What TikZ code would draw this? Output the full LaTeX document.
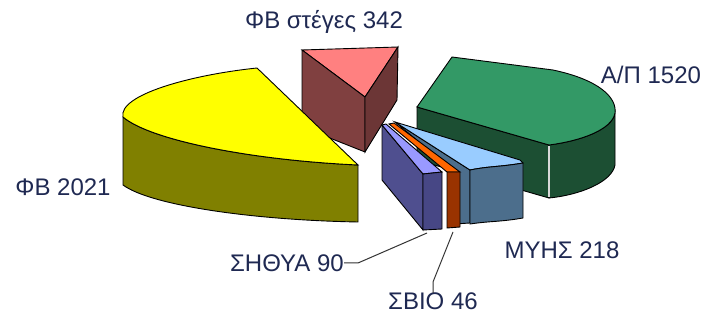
\documentclass[tikz,border=0pt]{standalone}
\usepackage{fontspec}
\setmainfont{Liberation Sans}
\newlength{\du}
\setlength{\du}{1pt}
\definecolor{labelcolor}{rgb}{0.12, 0.16, 0.32}
\definecolor{fvtop}{rgb}{1.00, 1.00, 0.00}
\definecolor{fvside}{rgb}{0.50, 0.50, 0.00}
\definecolor{rooftop}{rgb}{1.00, 0.50, 0.50}
\definecolor{roofside}{rgb}{0.50, 0.25, 0.25}
\definecolor{aptop}{rgb}{0.20, 0.60, 0.40}
\definecolor{apside}{rgb}{0.11, 0.31, 0.20}
\definecolor{myhstop}{rgb}{0.60, 0.80, 1.00}
\definecolor{myhsside}{rgb}{0.30, 0.43, 0.55}
\definecolor{sviotop}{rgb}{1.00, 0.40, 0.00}
\definecolor{svioside}{rgb}{0.60, 0.20, 0.00}
\definecolor{sithyatop}{rgb}{0.60, 0.60, 1.00}
\definecolor{sithyaside}{rgb}{0.31, 0.31, 0.56}
\definecolor{sithyafront}{rgb}{0.28, 0.28, 0.52}
\tikzset{
  face/.style={draw=black, line width=0.9\du, line join=miter},
  lbl/.style={text=labelcolor, font=\fontsize{24\du}{28\du}\selectfont, inner sep=0pt},
  leader/.style={draw=black!80, line width=1\du}
}

\begin{document}
\begin{tikzpicture}
\pgftransformxscale{1.000000}
\pgftransformyscale{-1.000000}
\useasboundingbox (0\du,0\du) rectangle (710\du,320\du);
% pink slice (roofs)
\fill[rooftop, face] (302\du,50\du)--(398\du,47\du)--(365\du,97\du)--cycle;
\fill[roofside, face] (302\du,50\du)--(365\du,97\du)--(365\du,152\du)--(302\du,127\du)--cycle;
\fill[roofside!85!black, face] (365\du,97\du)--(398\du,47\du)--(397\du,100\du)--(365\du,152\du)--cycle;
% yellow slice
\fill[fvside, face] (123\du,117\du) .. controls (150\du,140\du) and (250\du,160\du) .. (358\du,165\du)--(358\du,222\du) .. controls (250\du,220\du) and (150\du,205\du) .. (123\du,185\du)--cycle;
\fill[fvtop, face] (358\du,165\du)--(257\du,68\du) .. controls (190\du,75\du) and (118\du,95\du) .. (123\du,117\du) .. controls (150\du,140\du) and (250\du,160\du) .. (358\du,165\du)--cycle;
% green slice
\fill[apside, face] (417\du,107\du)--(549\du,145\du)--(549\du,198\du)--(417\du,160\du)--cycle;
\fill[apside, face] (549\du,145\du) .. controls (580\du,141\du) and (612\du,130\du) .. (615\du,113\du)--(615\du,165\du) .. controls (612\du,182\du) and (580\du,195\du) .. (549\du,198\du)--cycle;
\fill[aptop, face] (417\du,107\du)--(452\du,57\du)--(553\du,70\du) .. controls (600\du,80\du) and (617\du,98\du) .. (615\du,113\du) .. controls (612\du,130\du) and (580\du,141\du) .. (549\du,145\du)--cycle;
\draw[white!70!gray, line width=1.2\du] (549\du,146\du)--(549\du,197\du);
% light blue slice
\fill[myhsside, face] (395\du,122\du)--(470\du,170\du)--(470\du,223\du)--(455\du,224\du)--(455\du,172\du)--cycle;
\fill[myhstop, face] (395\du,122\du)--(520\du,160\du)--(523\du,163\du) .. controls (500\du,167\du) and (490\du,166\du) .. (470\du,170\du)--cycle;
\fill[myhsside, face] (470\du,170\du) .. controls (490\du,166\du) and (500\du,167\du) .. (523\du,163\du)--(523\du,218\du) .. controls (500\du,222\du) and (490\du,221\du) .. (470\du,224\du)--cycle;
% orange slice
\fill[sviotop, face] (389\du,124\du)--(447\du,172\du)--(460\du,172\du)--(394\du,123\du)--cycle;
\fill[svioside, face] (447\du,172\du)--(460\du,172\du)--(460\du,227\du)--(447\du,228\du)--cycle;
% purple slice
\fill[sithyaside, face] (382\du,125\du)--(423\du,174\du)--(423\du,230\du)--(382\du,180\du)--cycle;
\fill[sithyatop, face] (382\du,125\du)--(386\du,124\du)--(442\du,172\du)--(423\du,174\du)--cycle;
\fill[sithyafront, face] (423\du,174\du)--(442\du,172\du)--(442\du,229\du)--(423\du,230\du)--cycle;
% labels
\node[lbl] (fvroof) at (324\du,22\du){ΦΒ στέγες 342};
\node[lbl] (ap) at (651\du,75\du){Α/Π 1520};
\node[lbl] (fv) at (63\du,187\du){ΦΒ 2021};
\node[lbl] (myhs) at (562\du,250\du){ΜΥΗΣ 218};
\node[lbl, anchor=east] (sithya) at (344\du,263\du){ΣΗΘΥΑ 90};
\node[lbl, anchor=north] (svio) at (433\du,293\du){ΣΒΙΟ 46};
% leader lines
\coordinate (sithyaend) at (427\du,233\du);
\coordinate (svioend) at (453\du,232\du);
\draw[leader] (sithya.east)--++(14\du,0\du)--(sithyaend);
\draw[leader] (svio.north)--++(0\du,-11\du)--(svioend);
\end{tikzpicture}
\end{document}
